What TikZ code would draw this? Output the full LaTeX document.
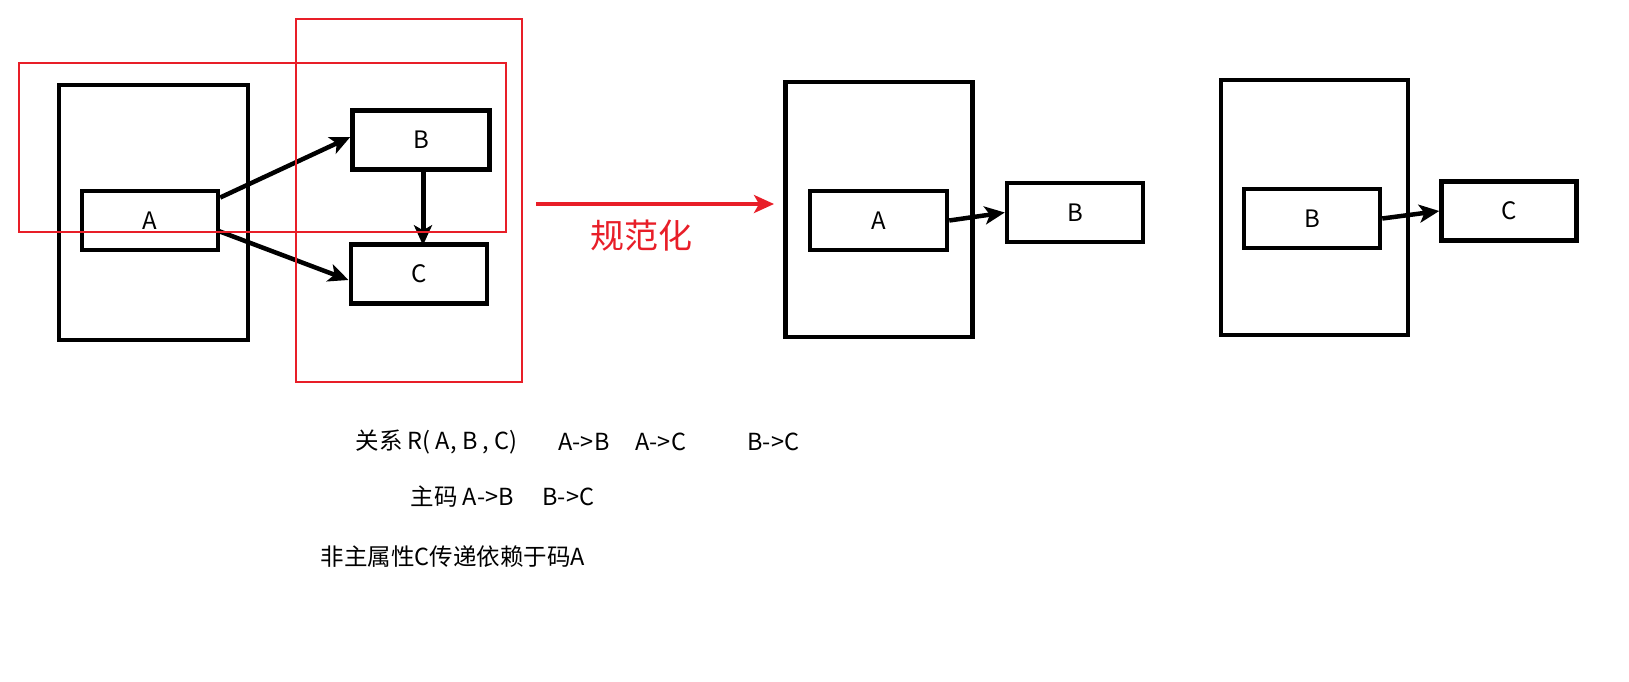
\documentclass[tikz,border=0pt]{standalone}
\usepackage{fontspec}
\setmainfont{Noto Sans CJK SC}
\usepackage{xcolor}
\usetikzlibrary{arrows.meta}
\definecolor{hlred}{RGB}{232,30,40}

\begin{document}
\begin{tikzpicture}[x=1pt,y=-1pt,>={Stealth[length=20pt,width=18pt,inset=5pt]},
outerbox/.style={draw,line width=4.5pt,minimum width=189pt,minimum height=255pt},
attrbox/.style={draw,line width=4.5pt,minimum width=136pt,minimum height=59pt,font=\fontsize{24}{28}\selectfont},
fd/.style={->,line width=4.5pt},
redbox/.style={draw=hlred,line width=2pt},
txt/.style={anchor=west,font=\fontsize{23.5}{27}\selectfont}]
\useasboundingbox(0,0)rectangle(1629,681);
% before
\node[outerbox](tabR)at(153.5,212.5){};
\node[attrbox](a1)at(150,220.5){A};
\node[attrbox,minimum width=137pt](b1)at(421,140){B};
\node[attrbox](c1)at(418.75,274){C};
\draw[fd]([yshift=23pt]a1.east)--([yshift=3pt]b1.west);
\draw[fd]([xshift=-3pt,yshift=-10pt]a1.east)--([yshift=-6pt]c1.west);
\draw[fd,line width=5pt]([xshift=2pt]b1.south)--([xshift=2pt,yshift=-3pt]b1.south|-c1.north);
\draw[redbox](19,63)rectangle(506,232);
\draw[redbox](296,19)rectangle(522,382);
% normalize
\coordinate(nfFrom)at(536,204);
\coordinate(nfTo)at(774,204);
\draw[->,hlred,line width=3.5pt](nfFrom)--(nfTo);
\node[hlred,font=\fontsize{34}{38}\selectfont](nf)at(641,236){规范化};
% after
\node[outerbox,minimum width=187pt](tabRa)at(879,209.5){};
\node[attrbox,minimum width=137pt](a2)at(878.5,220.5){A};
\node[attrbox](b2)at(1075,212.5){B};
\draw[fd](a2.east)--(b2.west);
\node[outerbox,minimum width=187pt](tabRb)at(1314.5,207.5){};
\node[attrbox](b3)at(1312,218.5){B};
\node[attrbox,minimum width=135pt](c3)at(1509,211){C};
\draw[fd](b3.east)--(c3.west);
% text
\node[txt](rel)at(352,442){关系 R( A, B , C)};
\node[txt](fd1)at(555,442){A->B};
\node[txt](fd2)at(632,442){A->C};
\node[txt](fd3)at(744,442){B->C};
\node[txt](key)at(407,497){主码 A->B};
\node[txt](key2)at(539,497){B->C};
\node[txt](note)at(317,557){非主属性C传递依赖于码A};
\end{tikzpicture}
\end{document}
